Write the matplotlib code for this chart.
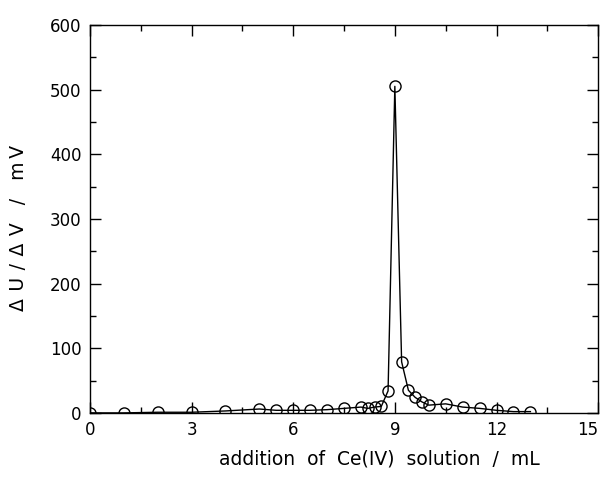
import matplotlib
matplotlib.use("Agg")
import matplotlib.pyplot as plt
from matplotlib.ticker import MultipleLocator

# titration data: volume of Ce(IV) added (mL) vs first derivative dU/dV (mV)
volume = [0, 1, 2, 3, 4, 5, 5.5, 6, 6.5, 7, 7.5, 8, 8.2, 8.4, 8.6, 8.8, 9.0,
          9.2, 9.4, 9.6, 9.8, 10.0, 10.5, 11.0, 11.5, 12.0, 12.5, 13.0]
dUdV = [0, 0, 1, 1, 3, 6, 4, 4, 4, 5, 7, 9, 7, 9, 10, 34, 505,
        79, 35, 24, 17, 12, 14, 9, 7, 4, 2, 2]
xticks = [0, 3, 6, 9, 12, 15]

plt.rcParams.update({"font.family": "DejaVu Sans", "font.size": 12})

fig = plt.figure(figsize=(6.03, 4.79), dpi=100)
ax = fig.add_axes([0.149, 0.138, 0.843, 0.81])
ax.plot(volume, dUdV, color="black", lw=1.0, marker="o", ms=8,
        mfc="none", mec="black", mew=1.0)

ax.set_xlim(0, 15); ax.set_ylim(0, 600)
ticks = ax.set_xticks(xticks, [str(t) for t in xticks])
ticks[-1].label1.set_ha("right")  # keep "15" inside the figure
ax.xaxis.set_minor_locator(MultipleLocator(1.5))
ax.yaxis.set_major_locator(MultipleLocator(100)); ax.yaxis.set_minor_locator(MultipleLocator(50))
ax.tick_params(which="both", direction="in", top=True, right=True, width=1.0)
ax.tick_params(which="major", length=8, pad=6, labelsize=12)
ax.tick_params(which="minor", length=4)
for s in ax.spines.values():
    s.set_linewidth(1.0)

ax.set_xlabel("addition  of  Ce(IV)  solution  /  mL", fontsize=13.5)
ax.xaxis.set_label_coords(0.569, -0.095)
# wide letter spacing as in the original
ts = "\u2009\u2009"
ax.set_ylabel(ts.join("ΔU/ΔV") + "   /   m\u2009V", fontsize=13.5)
ax.yaxis.set_label_coords(-0.122, 0.477)

fig.savefig("out.png", dpi=100, facecolor="white")
